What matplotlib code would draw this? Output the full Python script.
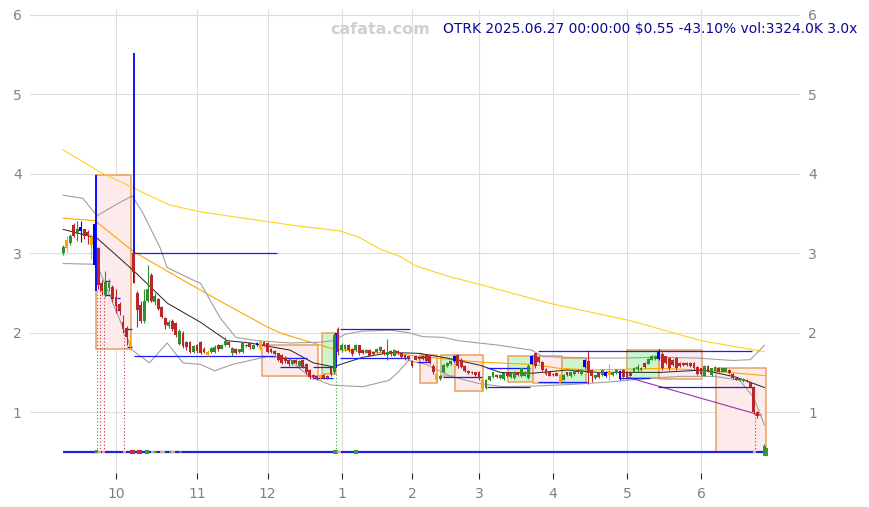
import numpy as np
import pandas as pd
import matplotlib
matplotlib.use("Agg")
import matplotlib.pyplot as plt
from matplotlib.patches import Rectangle

# trading calendar (x axis is trading-day index)
holidays = ["2024-11-28", "2024-12-25", "2025-01-01", "2025-01-09", "2025-01-20",
            "2025-02-17", "2025-04-18", "2025-05-26", "2025-06-19"]
dates = pd.bdate_range("2024-09-10", "2025-06-27", freq="C", holidays=holidays)

opens = [
    3.00, 3.06, 3.13, 3.35, 3.24, 3.28, 3.30, 3.27, 3.20, 3.37,
    3.06, 2.62, 2.48, 2.56, 2.58, 2.45, 2.36, 2.14, 2.06, 1.82,
    3.00, 2.50, 2.35, 2.15, 2.40, 2.72, 2.38, 2.42, 2.32, 2.18,
    2.08, 2.15, 2.12, 1.86, 2.00, 1.88, 1.88, 1.76, 1.84, 1.88,
    1.80, 1.72, 1.76, 1.76, 1.85, 1.80, 1.84, 1.88, 1.74, 1.80,
    1.76, 1.76, 1.83, 1.87, 1.80, 1.84, 1.80, 1.88, 1.87, 1.80,
    1.77, 1.74, 1.72, 1.68, 1.66, 1.60, 1.66, 1.58, 1.65, 1.60,
    1.53, 1.47, 1.46, 1.43, 1.47, 1.46, 1.56, 1.50, 2.05, 1.78,
    1.79, 1.85, 1.80, 1.78, 1.84, 1.78, 1.75, 1.78, 1.76, 1.76,
    1.77, 1.78, 1.72, 1.77, 1.71, 1.77, 1.74, 1.72, 1.70, 1.64,
    1.70, 1.68, 1.71, 1.72, 1.70, 1.58, 1.40, 1.42, 1.50, 1.58,
    1.60, 1.64, 1.72, 1.66, 1.58, 1.52, 1.51, 1.50, 1.51, 1.29,
    1.30, 1.40, 1.44, 1.47, 1.43, 1.42, 1.50, 1.44, 1.43, 1.50,
    1.45, 1.46, 1.43, 1.61, 1.74, 1.69, 1.63, 1.54, 1.51, 1.48,
    1.49, 1.37, 1.41, 1.50, 1.45, 1.48, 1.53, 1.48, 1.57, 1.64,
    1.53, 1.43, 1.49, 1.47, 1.45, 1.47, 1.47, 1.49, 1.42, 1.53,
    1.49, 1.51, 1.51, 1.54, 1.53, 1.62, 1.61, 1.66, 1.67, 1.67,
    1.73, 1.70, 1.68, 1.66, 1.68, 1.62, 1.62, 1.62, 1.62, 1.62,
    1.57, 1.55, 1.46, 1.58, 1.47, 1.52, 1.56, 1.51, 1.51, 1.53,
    1.48, 1.43, 1.40, 1.39, 1.41, 1.38, 1.32, 1.00, 0.95, 0.50,
]
closes = [
    3.08, 3.16, 3.21, 3.22, 3.30, 3.33, 3.22, 3.22, 3.10, 2.85,
    2.60, 2.52, 2.64, 2.63, 2.42, 2.33, 2.28, 2.04, 1.94, 1.90,
    2.76, 2.28, 2.15, 2.40, 2.55, 2.40, 2.46, 2.30, 2.20, 2.10,
    2.14, 2.05, 1.97, 2.02, 1.83, 1.82, 1.76, 1.83, 1.77, 1.75,
    1.76, 1.76, 1.81, 1.82, 1.79, 1.85, 1.90, 1.84, 1.81, 1.75,
    1.79, 1.87, 1.85, 1.82, 1.85, 1.87, 1.89, 1.84, 1.76, 1.76,
    1.73, 1.66, 1.62, 1.64, 1.60, 1.65, 1.62, 1.64, 1.56, 1.50,
    1.44, 1.44, 1.42, 1.47, 1.43, 1.43, 1.48, 1.97, 1.76, 1.84,
    1.84, 1.78, 1.73, 1.84, 1.74, 1.74, 1.78, 1.71, 1.73, 1.80,
    1.82, 1.73, 1.76, 1.73, 1.78, 1.74, 1.69, 1.67, 1.67, 1.58,
    1.66, 1.67, 1.67, 1.64, 1.63, 1.50, 1.48, 1.46, 1.59, 1.62,
    1.64, 1.70, 1.58, 1.57, 1.52, 1.49, 1.49, 1.47, 1.43, 1.40,
    1.40, 1.45, 1.50, 1.44, 1.47, 1.49, 1.45, 1.49, 1.51, 1.47,
    1.55, 1.50, 1.58, 1.71, 1.58, 1.63, 1.53, 1.48, 1.46, 1.47,
    1.46, 1.47, 1.47, 1.47, 1.50, 1.53, 1.50, 1.53, 1.66, 1.49,
    1.45, 1.47, 1.44, 1.53, 1.51, 1.52, 1.51, 1.53, 1.52, 1.44,
    1.44, 1.46, 1.56, 1.57, 1.56, 1.57, 1.67, 1.71, 1.70, 1.77,
    1.55, 1.62, 1.55, 1.59, 1.55, 1.58, 1.59, 1.59, 1.58, 1.55,
    1.48, 1.48, 1.58, 1.51, 1.55, 1.57, 1.51, 1.55, 1.55, 1.49,
    1.43, 1.41, 1.42, 1.42, 1.39, 1.31, 1.00, 0.95, 0.97, 0.57,
]
highs = [
    3.10, 3.22, 3.24, 3.38, 3.40, 3.41, 3.31, 3.29, 3.24, 3.40,
    3.08, 2.66, 2.78, 2.67, 2.60, 2.55, 2.38, 2.22, 2.08, 1.98,
    3.02, 2.52, 2.40, 2.55, 2.85, 2.75, 2.50, 2.44, 2.34, 2.20,
    2.16, 2.17, 2.14, 2.04, 2.02, 1.90, 1.90, 1.85, 1.86, 1.90,
    1.82, 1.78, 1.82, 1.84, 1.86, 1.86, 1.94, 1.89, 1.82, 1.81,
    1.80, 1.88, 1.86, 1.88, 1.86, 1.88, 1.90, 1.89, 1.88, 1.81,
    1.78, 1.75, 1.73, 1.70, 1.67, 1.66, 1.67, 1.66, 1.66, 1.62,
    1.54, 1.48, 1.47, 1.48, 1.48, 1.47, 1.58, 2.00, 2.07, 1.87,
    1.86, 1.86, 1.81, 1.86, 1.85, 1.79, 1.79, 1.79, 1.77, 1.81,
    1.83, 1.79, 1.92, 1.78, 1.79, 1.78, 1.75, 1.73, 1.71, 1.65,
    1.71, 1.69, 1.72, 1.73, 1.72, 1.60, 1.49, 1.47, 1.61, 1.63,
    1.66, 1.72, 1.73, 1.68, 1.59, 1.53, 1.52, 1.51, 1.52, 1.42,
    1.42, 1.46, 1.51, 1.48, 1.48, 1.50, 1.51, 1.50, 1.52, 1.51,
    1.56, 1.52, 1.60, 1.72, 1.75, 1.70, 1.64, 1.55, 1.52, 1.49,
    1.50, 1.48, 1.48, 1.51, 1.51, 1.54, 1.54, 1.54, 1.67, 1.78,
    1.54, 1.48, 1.50, 1.54, 1.52, 1.61, 1.52, 1.54, 1.53, 1.54,
    1.50, 1.52, 1.57, 1.60, 1.57, 1.63, 1.68, 1.72, 1.72, 1.79,
    1.76, 1.71, 1.69, 1.67, 1.69, 1.63, 1.63, 1.63, 1.63, 1.63,
    1.58, 1.56, 1.59, 1.59, 1.56, 1.58, 1.57, 1.56, 1.56, 1.54,
    1.49, 1.44, 1.43, 1.43, 1.42, 1.39, 1.33, 1.01, 0.98, 0.60,
]
lows = [
    2.98, 3.02, 3.10, 3.20, 3.15, 3.14, 3.18, 3.12, 2.93, 2.82,
    2.55, 2.48, 2.45, 2.52, 2.38, 2.25, 2.22, 2.00, 1.85, 1.80,
    2.62, 2.07, 2.12, 2.12, 2.38, 2.38, 2.35, 2.28, 2.18, 2.05,
    2.06, 2.02, 1.95, 1.84, 1.81, 1.78, 1.74, 1.74, 1.75, 1.73,
    1.74, 1.70, 1.75, 1.75, 1.77, 1.79, 1.83, 1.82, 1.70, 1.73,
    1.74, 1.75, 1.82, 1.80, 1.79, 1.83, 1.78, 1.83, 1.75, 1.74,
    1.72, 1.64, 1.60, 1.62, 1.58, 1.59, 1.60, 1.56, 1.55, 1.48,
    1.42, 1.42, 1.41, 1.41, 1.42, 1.42, 1.46, 1.48, 1.72, 1.76,
    1.77, 1.76, 1.71, 1.77, 1.72, 1.73, 1.74, 1.70, 1.72, 1.75,
    1.76, 1.72, 1.66, 1.71, 1.70, 1.73, 1.68, 1.66, 1.65, 1.57,
    1.65, 1.66, 1.66, 1.63, 1.61, 1.48, 1.37, 1.41, 1.49, 1.57,
    1.59, 1.63, 1.56, 1.55, 1.51, 1.48, 1.48, 1.46, 1.41, 1.27,
    1.29, 1.39, 1.43, 1.43, 1.42, 1.41, 1.44, 1.43, 1.42, 1.46,
    1.44, 1.45, 1.42, 1.60, 1.56, 1.62, 1.52, 1.47, 1.45, 1.46,
    1.45, 1.36, 1.40, 1.46, 1.44, 1.47, 1.49, 1.47, 1.56, 1.36,
    1.38, 1.42, 1.43, 1.46, 1.44, 1.40, 1.46, 1.48, 1.41, 1.42,
    1.42, 1.45, 1.50, 1.50, 1.52, 1.56, 1.60, 1.65, 1.66, 1.66,
    1.53, 1.60, 1.53, 1.58, 1.53, 1.57, 1.58, 1.58, 1.57, 1.54,
    1.47, 1.47, 1.45, 1.50, 1.46, 1.51, 1.50, 1.50, 1.50, 1.48,
    1.42, 1.40, 1.39, 1.38, 1.38, 1.30, 0.98, 0.93, 0.94, 0.48,
]
# specially marked candles
flags = {1: "orange", 5: "blue", 8: "orange", 9: "blue", 19: "orange", 41: "orange",
         55: "blue", 56: "orange", 73: "orange", 106: "orange", 111: "blue",
         119: "orange", 133: "blue", 141: "orange", 148: "blue", 154: "blue",
         155: "orange", 158: "blue", 169: "blue", 198: "orange"}

# moving average lines, read at knots (trading-day index, price)
ma200_x = [0, 10.5, 20, 30, 39, 59, 67, 78.6, 84, 90, 95.6, 100, 110, 118, 138, 161, 181, 199]
ma200_y = [4.30, 4.02, 3.82, 3.61, 3.52, 3.39, 3.34, 3.28, 3.20, 3.05, 2.96, 2.84, 2.70, 2.61, 2.37, 2.15, 1.90, 1.76]
ma50_x = [0, 9, 20, 34, 44, 58, 62, 77, 95, 106, 118, 133, 141, 150, 170, 181, 199]
ma50_y = [3.44, 3.41, 3.02, 2.66, 2.41, 2.07, 1.99, 1.79, 1.73, 1.68, 1.63, 1.60, 1.55, 1.53, 1.55, 1.53, 1.46]
ma20_x = [0, 9.6, 20, 29.6, 39, 46.5, 53, 64.4, 71, 76.6, 85, 92.8, 101, 109, 118.3, 124, 133.4, 143,
          152, 161, 169.4, 181.6, 191, 199]
ma20_y = [3.30, 3.19, 2.78, 2.37, 2.13, 1.90, 1.87, 1.78, 1.62, 1.57, 1.69, 1.75, 1.74, 1.68, 1.59, 1.50,
          1.49, 1.53, 1.50, 1.50, 1.50, 1.53, 1.44, 1.31]
bb_up_x = [0, 5.6, 9.6, 15.3, 19.6, 22.7, 27.5, 29.5, 36, 39, 41.7, 44.5, 49, 55, 64.4, 73, 77, 80, 85,
           93, 98, 102, 108, 112, 124, 133, 136, 150, 158, 170, 180, 190, 195, 199]
bb_up_y = [3.73, 3.69, 3.47, 3.62, 3.72, 3.50, 3.07, 2.82, 2.68, 2.62, 2.41, 2.19, 1.94, 1.90, 1.87,
           1.88, 1.90, 1.98, 2.02, 2.03, 2.00, 1.95, 1.94, 1.90, 1.84, 1.78, 1.70, 1.68, 1.68, 1.69,
           1.68, 1.65, 1.66, 1.84]
bb_lo_x = [0, 9.6, 19.6, 24.5, 29.5, 34, 39, 43, 48, 53, 58, 64, 67, 70, 76, 85, 92.5, 95, 98, 103,
           110, 118, 125, 135, 145, 155, 165, 175, 185, 192, 196, 199]
bb_lo_y = [2.87, 2.86, 1.78, 1.62, 1.87, 1.62, 1.60, 1.52, 1.60, 1.65, 1.70, 1.68, 1.55, 1.45, 1.34,
           1.32, 1.40, 1.50, 1.65, 1.60, 1.45, 1.36, 1.32, 1.33, 1.35, 1.38, 1.42, 1.45, 1.45, 1.40,
           1.18, 0.84]

# rectangles: start, end, low, high, kind
boxes = [(9.3, 19.3, 1.80, 3.98, "dn"), (56.4, 72.3, 1.45, 1.85, "dn"), (73.5, 77.4, 1.48, 2.00, "up"),
         (101.3, 106.1, 1.37, 1.72, "dn"), (107.2, 111.2, 1.46, 1.72, "up"),
         (111.2, 119.2, 1.27, 1.72, "dn"), (126.3, 133.3, 1.38, 1.70, "up"),
         (133.3, 141.5, 1.37, 1.71, "dn"), (141.5, 148.4, 1.37, 1.68, "up"),
         (160.0, 169.1, 1.43, 1.78, "up"), (169.1, 181.3, 1.42, 1.78, "dn"),
         (185.3, 199.4, 0.50, 1.55, "dn")]

# blue levels: start, end, price
levels = [(20.1, 60.7, 3.00), (20.1, 60.1, 1.70), (61.5, 69.2, 1.68), (61.5, 69.2, 1.57),
          (70.9, 76.6, 1.57), (70.9, 76.6, 1.43), (78.6, 98.5, 2.04), (78.6, 98.5, 1.68),
          (100.4, 104.1, 1.69), (100.4, 104.1, 1.63), (107.8, 118.9, 1.44), (120.3, 132.5, 1.55),
          (120.3, 132.5, 1.32), (134.8, 195.5, 1.77), (134.8, 148.7, 1.38), (158.0, 166.6, 1.43),
          (168.8, 195.5, 1.31), (11.9, 13.3, 2.65), (11.9, 13.3, 2.48), (15.3, 16.1, 2.44),
          (15.3, 16.1, 2.34), (15.3, 16.1, 2.28), (18.1, 19.5, 2.04), (18.1, 19.5, 1.82)]
spikes = [(9.3, 2.53, 3.98), (20.0, 2.62, 5.52), (77.3, 1.55, 2.00)]
drops = [(9.5, 2.53, "g"), (10.4, 2.55, "r"), (11.5, 2.48, "r"), (17.3, 2.00, "r"),
         (77.3, 1.48, "g"), (196.3, 0.98, "r")]
trend_x = [160, 198]
trend_y = [1.44, 0.96]

# volume marks on the 0.5 baseline
vol_x = [9.5, 10.4, 11.5, 17.3, 19.8, 21.8, 23.8, 25.5, 26.2, 27.8, 28.4, 30.6, 31.2, 33.2,
         77.4, 78.3, 83.1, 196.3, 199.2]
vol_h = [0.04, 0.03, 0.03, 0.03, 0.05, 0.05, 0.05, 0.03, 0.03, 0.03, 0.03, 0.03, 0.03, 0.03,
         0.05, 0.03, 0.05, 0.03, 0.10]
vol_c = ["g", "p", "p", "p", "r", "r", "g", "p", "g", "p", "p", "g", "p", "g", "g", "p", "g", "p", "g"]

title = "OTRK 2025.06.27 00:00:00 $0.55 -43.10% vol:3324.0K 3.0x"

RED = "#b82828"
GREEN = "#2f8f2f"
cmap = {"g": "#3a9a3a", "r": "#c0303a", "p": "#e3a0aa"}

fig = plt.figure(figsize=(8.69, 5.07), dpi=100)
ax = fig.add_axes([30 / 869, 1 - 473 / 507, 770 / 869, 463 / 507])
ax.set_xlim(-9.4, 209.1)
ax.set_ylim(0.234, 6.06)

for x0, x1, y0, y1, kind in boxes:
    fc = "#fdeaea" if kind == "dn" else "#ccf5cc"
    ax.add_patch(Rectangle((x0, y0), x1 - x0, y1 - y0, facecolor=fc, edgecolor="#e8a060",
                           lw=1.1, zorder=1))

ax.plot(ma200_x, ma200_y, color="#ffd21f", lw=0.8, zorder=2)
ax.plot(ma50_x, ma50_y, color="#ffa500", lw=0.8, zorder=2)
ax.plot(bb_up_x, bb_up_y, color="#a0a0a0", lw=0.8, zorder=2)
ax.plot(bb_lo_x, bb_lo_y, color="#a0a0a0", lw=0.8, zorder=2)
ax.plot(ma20_x, ma20_y, color="#222222", lw=0.7, zorder=2)
ax.plot(trend_x, trend_y, color="#9933aa", lw=0.8, zorder=2)

for x0, x1, y in levels:
    ax.hlines(y, x0, x1, color="#1a1aff", lw=0.9, zorder=3)
for x, y0, y1 in spikes:
    ax.vlines(x, y0, y1, color="#0000ff", lw=1.3, zorder=5)
for x, top, c in drops:
    ax.vlines(x, 0.5, top, color=cmap[c], lw=0.8, linestyles=(0, (1, 2)), zorder=3)

ax.hlines(0.5, 0, 199.5, color="#2222dd", lw=1.6, zorder=3)
vol_w = [1.4 if h >= 0.05 else 0.9 for h in vol_h]
ax.bar(vol_x, vol_h, width=vol_w, bottom=[0.5 - h / 2 for h in vol_h],
       color=[cmap[c] for c in vol_c], zorder=4)

# candles
idx = np.arange(len(dates))
o = np.array(opens)
c = np.array(closes)
colors = [flags.get(i, GREEN if c[i] >= o[i] else RED) for i in idx]
top = np.maximum.reduce([np.array(highs), o, c])
bot = np.minimum.reduce([np.array(lows), o, c])
ax.vlines(idx, bot, top, color=colors, lw=0.8, zorder=6)
ax.bar(idx, np.maximum(np.abs(c - o), 0.012), bottom=np.minimum(o, c), width=0.8,
       color=colors, zorder=6)

# month ticks
starts = [i for i in range(1, len(dates)) if dates[i].month != dates[i - 1].month]
ax.set_xticks(starts)
ax.set_xticklabels([str(dates[i].month) for i in starts])
ax.set_yticks([1, 2, 3, 4, 5, 6])
ax.grid(color="#dddddd", lw=0.8)
ax.set_axisbelow(True)
for s in ax.spines.values():
    s.set_visible(False)
ax.tick_params(axis="x", length=4, color="#222222", labelcolor="#808080", labelsize=10, pad=6)
ax.tick_params(axis="y", length=0, labelcolor="#808080", labelsize=10,
               labelleft=True, labelright=True, pad=6)

fig.text(0.987, 0.942, title, ha="right", va="center", color="#0a0a96", fontsize=10)
fig.text(0.437, 0.942, "cafata.com", ha="center", va="center", color="#d0d0d0",
         fontsize=11.5, fontweight="bold")

fig.savefig("out.png", dpi=100)
